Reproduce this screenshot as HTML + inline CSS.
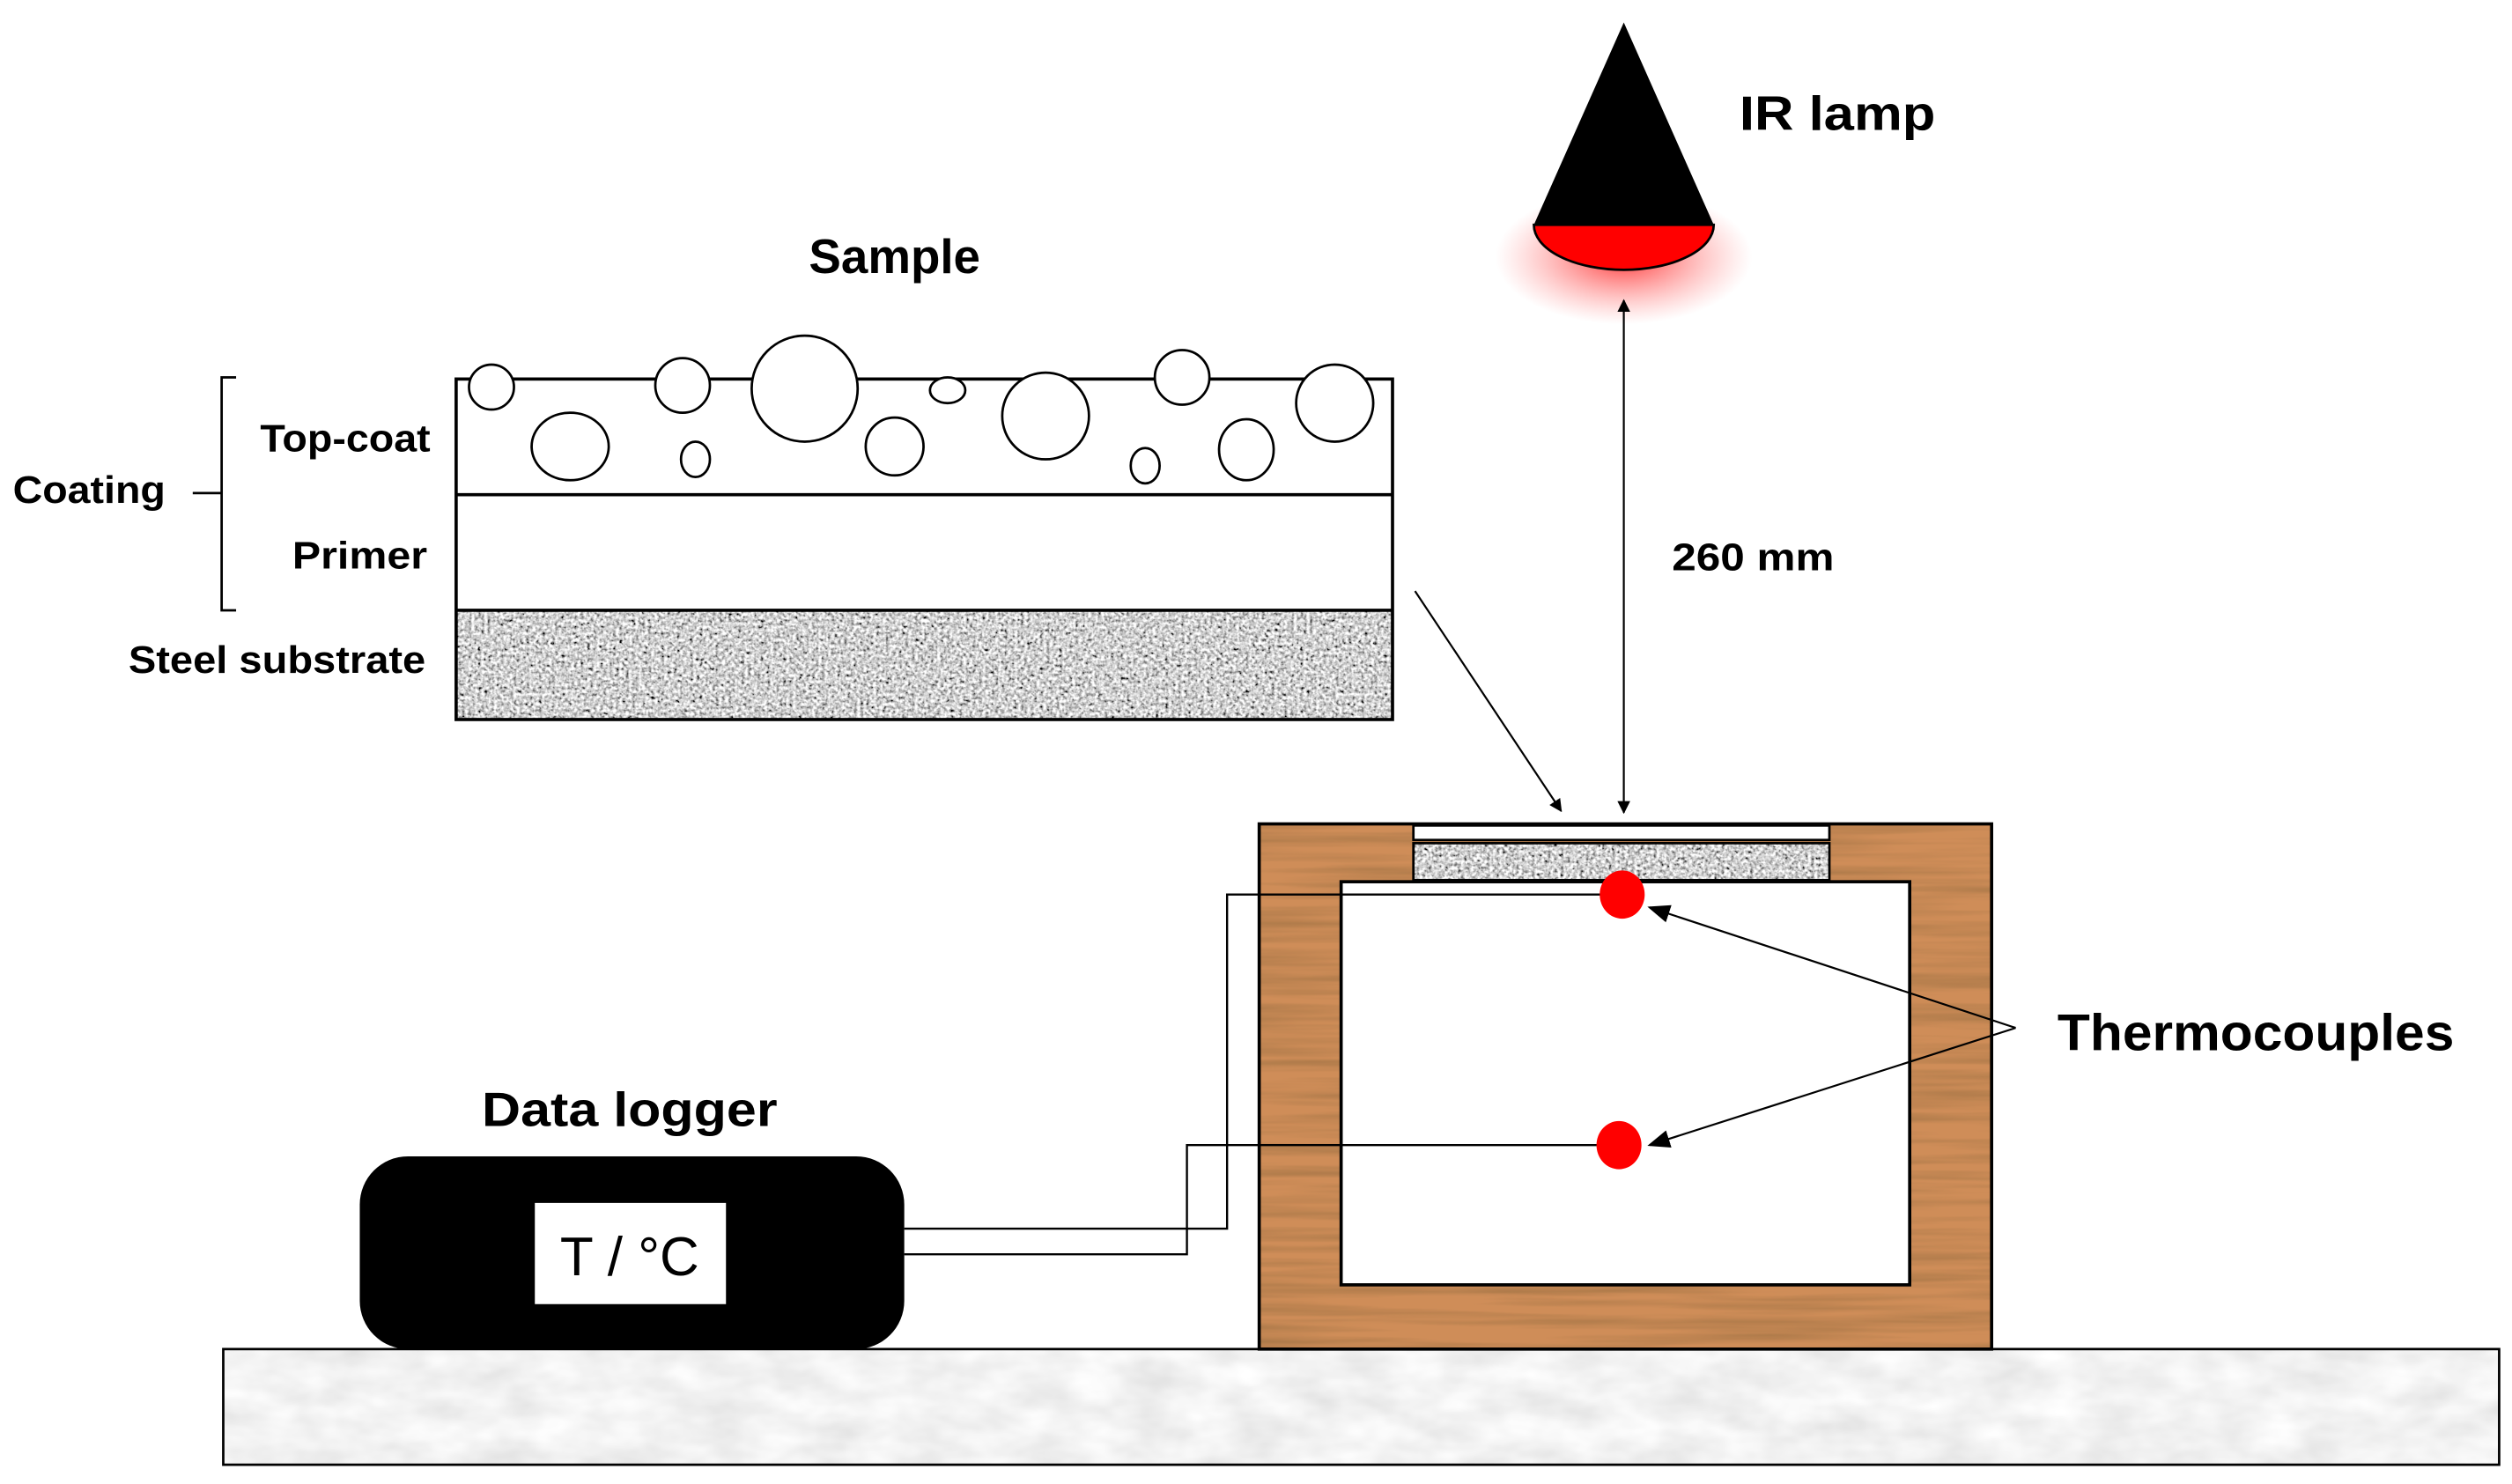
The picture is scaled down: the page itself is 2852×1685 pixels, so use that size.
<!DOCTYPE html>
<html><head><meta charset="utf-8"><style>
html,body{margin:0;padding:0;background:#fff;}
svg{display:block;}
text{font-family:"Liberation Sans",sans-serif;font-weight:bold;fill:#000;}
</style></head><body>
<svg width="2852" height="1685" viewBox="0 0 1564 924" preserveAspectRatio="none" xmlns="http://www.w3.org/2000/svg">
<defs>
<filter id="steel" x="0" y="0" width="1" height="1">
<feTurbulence type="fractalNoise" baseFrequency="0.5" numOctaves="2" seed="3"/>
<feColorMatrix type="matrix" values="0.33 0.33 0.33 0 0  0.33 0.33 0.33 0 0  0.33 0.33 0.33 0 0  0 0 0 0 1"/>
<feComponentTransfer><feFuncR type="linear" slope="3.2" intercept="-0.95"/><feFuncG type="linear" slope="3.2" intercept="-0.95"/><feFuncB type="linear" slope="3.2" intercept="-0.95"/></feComponentTransfer>
</filter>
<filter id="wood" x="0" y="0" width="1" height="1">
<feTurbulence type="fractalNoise" baseFrequency="0.006 0.15" numOctaves="3" seed="5"/>
<feColorMatrix type="matrix" values="0 0 0 0 0.3  0 0 0 0 0.15  0 0 0 0 0.05  1.2 0 0 0 -0.45"/>
</filter>
<filter id="marble" x="0" y="0" width="1" height="1">
<feTurbulence type="fractalNoise" baseFrequency="0.03 0.06" numOctaves="3" seed="9"/>
<feColorMatrix type="matrix" values="0 0 0 0.3 0.74  0 0 0 0.3 0.74  0 0 0 0.3 0.74  0 0 0 0 1"/>
</filter>
<radialGradient id="glow" cx="0.5" cy="0.5" r="0.5">
<stop offset="0" stop-color="#ff2020" stop-opacity="0.9"/>
<stop offset="0.5" stop-color="#ff5050" stop-opacity="0.45"/>
<stop offset="1" stop-color="#ff8080" stop-opacity="0"/>
</radialGradient>
<marker id="ah" viewBox="0 0 10 10" refX="9" refY="5" markerWidth="8" markerHeight="8" orient="auto-start-reverse" markerUnits="userSpaceOnUse"><path d="M0,0 L10,5 L0,10 z" fill="#000"/></marker>
<marker id="ah2" viewBox="0 0 10 10" refX="9" refY="5" markerWidth="14" markerHeight="14" orient="auto" markerUnits="userSpaceOnUse"><path d="M0,1 L10,5 L0,9 z" fill="#000"/></marker>
</defs>

<rect x="139" y="840" width="1417" height="72" filter="url(#marble)"/>
<rect x="139" y="840" width="1417" height="72" fill="none" stroke="#000" stroke-width="1.5"/>

<ellipse cx="1011" cy="160" rx="80" ry="42" fill="url(#glow)"/>
<path d="M955,140 A56,28 0 0 0 1067,140 Z" fill="#ff0000" stroke="#000" stroke-width="1.5"/>
<polygon points="1011,14 955,140 1067,140" fill="#000"/>
<g style="font-size:30px">
<text x="1083" y="81" font-size="30" textLength="122" lengthAdjust="spacingAndGlyphs">IR lamp</text>
</g>

<text x="557" y="170" font-size="30" text-anchor="middle">Sample</text>
<rect x="284" y="380" width="583" height="68" filter="url(#steel)"/>
<rect x="284" y="236" width="583" height="212" fill="none" stroke="#000" stroke-width="2"/>
<line x1="284" y1="308" x2="867" y2="308" stroke="#000" stroke-width="2"/>
<line x1="284" y1="380" x2="867" y2="380" stroke="#000" stroke-width="2"/>
<g fill="#fff" stroke="#000" stroke-width="1.5">
<circle cx="306" cy="241" r="14"/>
<circle cx="425" cy="240" r="17"/>
<circle cx="501" cy="242" r="33"/>
<ellipse cx="590" cy="243" rx="11" ry="8"/>
<circle cx="651" cy="259" r="27"/>
<circle cx="736" cy="235" r="17"/>
<circle cx="831" cy="251" r="24"/>
<ellipse cx="355" cy="278" rx="24" ry="21"/>
<ellipse cx="433" cy="286" rx="9" ry="11"/>
<circle cx="557" cy="278" r="18"/>
<ellipse cx="713" cy="290" rx="9" ry="11"/>
<ellipse cx="776" cy="280" rx="17" ry="19"/>
</g>
<path d="M147,235 L138,235 L138,380 L147,380 M138,307 L120,307" fill="none" stroke="#000" stroke-width="1.5"/>
<text x="8" y="313" font-size="24" textLength="95" lengthAdjust="spacingAndGlyphs">Coating</text>
<text x="162" y="281" font-size="24" textLength="106" lengthAdjust="spacingAndGlyphs">Top-coat</text>
<text x="182" y="354" font-size="24" textLength="84" lengthAdjust="spacingAndGlyphs">Primer</text>
<text x="80" y="419" font-size="24" textLength="185" lengthAdjust="spacingAndGlyphs">Steel substrate</text>

<line x1="881" y1="368" x2="972" y2="505" stroke="#000" stroke-width="1.2" marker-end="url(#ah)"/>
<line x1="1011" y1="187" x2="1011" y2="506" stroke="#000" stroke-width="1.2" marker-start="url(#ah)" marker-end="url(#ah)"/>
<text x="1041" y="355" font-size="24" textLength="101" lengthAdjust="spacingAndGlyphs">260 mm</text>

<rect x="784" y="513" width="456" height="327" fill="#cf8d58"/>
<rect x="784" y="513" width="456" height="327" filter="url(#wood)"/>
<rect x="784" y="513" width="456" height="327" fill="none" stroke="#000" stroke-width="2"/>
<rect x="880" y="514" width="259" height="9" fill="#fff" stroke="#000" stroke-width="1.5"/>
<rect x="880" y="525" width="259" height="23" filter="url(#steel)"/>
<rect x="880" y="525" width="259" height="23" fill="none" stroke="#000" stroke-width="1.5"/>
<rect x="835" y="549" width="354" height="251" fill="#fff" stroke="#000" stroke-width="2"/>

<polyline points="1000,557 764,557 764,765 563,765" fill="none" stroke="#000" stroke-width="1.3"/>
<polyline points="1000,713 739,713 739,781 563,781" fill="none" stroke="#000" stroke-width="1.3"/>
<ellipse cx="1010" cy="557" rx="14" ry="15" fill="#ff0000"/>
<ellipse cx="1008" cy="713" rx="14" ry="15" fill="#ff0000"/>

<line x1="1255" y1="640" x2="1027" y2="565" stroke="#000" stroke-width="1.2" marker-end="url(#ah2)"/>
<line x1="1255" y1="640" x2="1027" y2="713" stroke="#000" stroke-width="1.2" marker-end="url(#ah2)"/>
<text x="1281" y="654" font-size="32" textLength="247" lengthAdjust="spacingAndGlyphs">Thermocouples</text>

<text x="300" y="701" font-size="30" textLength="184" lengthAdjust="spacingAndGlyphs">Data logger</text>
<rect x="224" y="720" width="339" height="120" rx="30" ry="30" fill="#000"/>
<rect x="333" y="749" width="119" height="63" fill="#fff"/>
<text x="392" y="794" font-size="34" text-anchor="middle" style="font-weight:normal">T / °C</text>
</svg>
</body></html>
